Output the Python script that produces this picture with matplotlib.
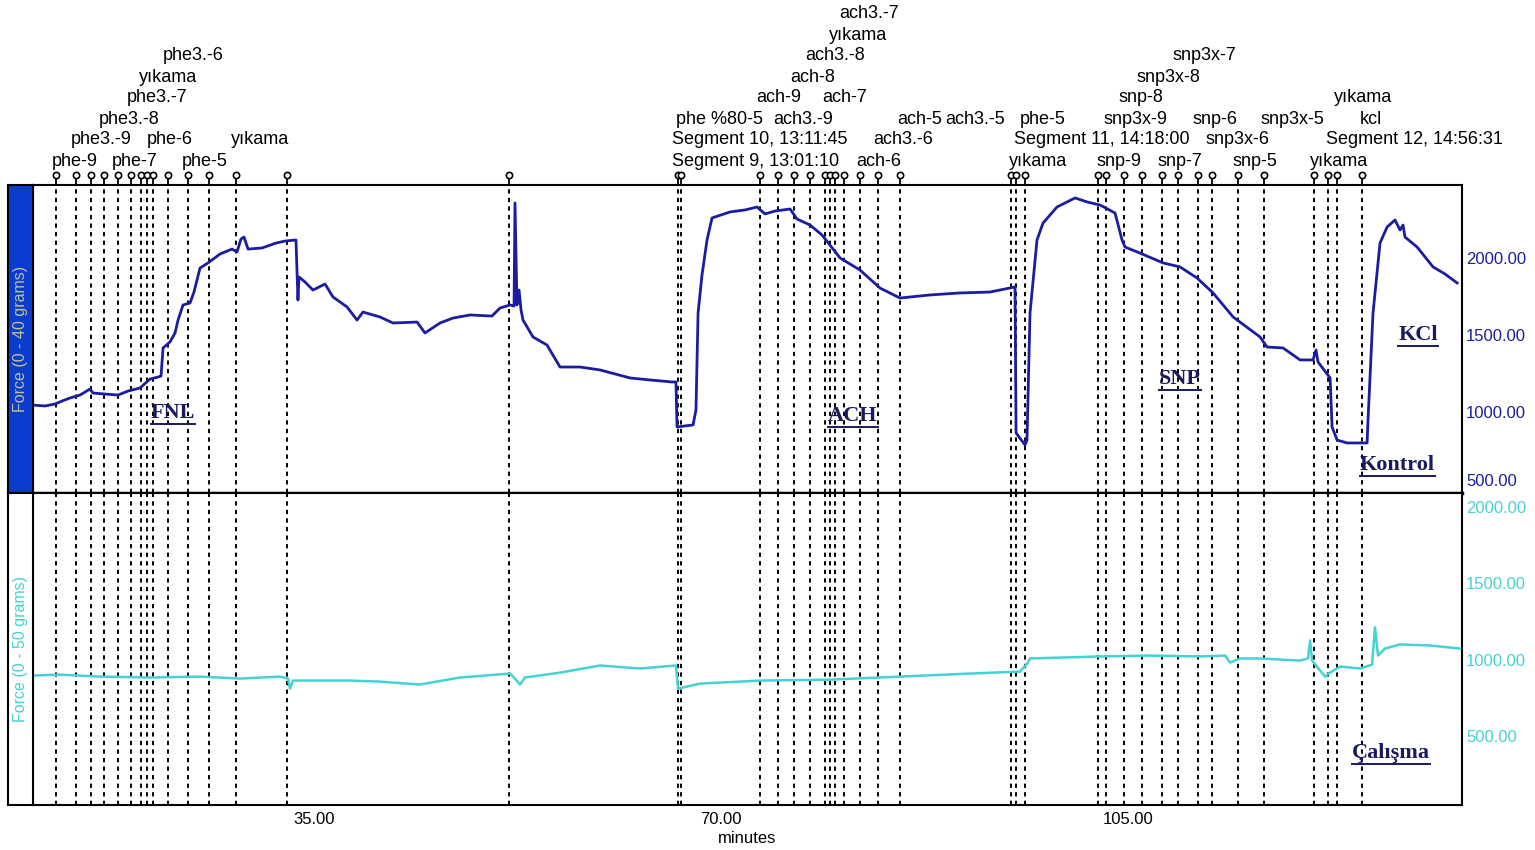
import matplotlib
matplotlib.use("Agg")
import matplotlib.pyplot as plt
from matplotlib import transforms
from matplotlib.lines import Line2D

# ---- data (x in minutes, force in grams) ----
top_time = [10.84, 11.87, 12.73, 13.33, 14.02, 14.88, 15.74, 16.00, 17.03, 18.15,
            19.01, 20.04, 20.90, 21.59, 21.85, 22.02, 22.62, 23.05, 23.31, 23.74,
            24.34, 24.68, 25.20, 25.89, 26.92, 27.95, 28.38, 28.72, 28.98, 29.33,
            30.53, 31.73, 32.51, 33.45, 33.54, 33.62, 33.71, 34.23, 34.91, 35.95,
            36.63, 37.84, 38.70, 39.21, 40.67, 41.79, 43.86, 44.54, 45.83, 46.95,
            48.41, 50.30, 50.99, 51.85, 52.20, 52.28, 52.45, 52.63, 52.80, 52.97,
            53.83, 55.03, 56.15, 57.87, 59.59, 62.17, 63.89, 65.78, 66.12, 66.21,
            67.59, 67.84, 68.02, 68.36, 68.79, 69.22, 70.77, 72.06, 73.09, 73.78,
            74.64, 75.93, 76.53, 77.65, 78.68, 80.23, 81.94, 83.66, 85.38, 87.96,
            90.54, 93.12, 95.27, 95.36, 96.13, 96.30, 96.56, 97.16, 97.68, 98.88,
            100.43, 101.46, 102.58, 103.87, 104.47, 104.73, 106.02, 108.00, 109.46, 110.92,
            112.30, 114.02, 116.34, 116.94, 118.31, 119.78, 120.89, 121.15, 121.32, 122.36,
            122.53, 122.96, 123.82, 125.54, 125.62, 126.05, 126.65, 127.26, 127.94, 128.37,
            128.63, 128.80, 129.84, 131.21, 132.24, 133.28]
top_force = [1045, 1039, 1052, 1071, 1091, 1110, 1149, 1123, 1117, 1110,
             1136, 1156, 1214, 1227, 1234, 1416, 1455, 1513, 1597, 1695,
             1708, 1779, 1935, 1968, 2026, 2058, 2039, 2123, 2136, 2058,
             2065, 2097, 2110, 2117, 1903, 1727, 1877, 1844, 1792, 1831,
             1747, 1682, 1597, 1649, 1617, 1578, 1584, 1513, 1578, 1610,
             1630, 1623, 1675, 1695, 1688, 2357, 1695, 1792, 1662, 1597,
             1487, 1435, 1292, 1292, 1273, 1221, 1208, 1195, 1195, 903,
             916, 1013, 1643, 1890, 2117, 2260, 2299, 2312, 2331, 2286,
             2305, 2318, 2253, 2214, 2149, 2000, 1922, 1805, 1740, 1760,
             1773, 1779, 1812, 864, 786, 818, 1643, 2117, 2227, 2331,
             2390, 2364, 2344, 2292, 2117, 2071, 2032, 1968, 1942, 1870,
             1773, 1617, 1487, 1422, 1416, 1338, 1338, 1403, 1325, 1221,
             903, 818, 799, 799, 948, 1643, 2097, 2201, 2247, 2182,
             2214, 2136, 2071, 1942, 1896, 1838]

bottom_time = [10.84, 13.16, 16.60, 20.90, 25.20, 28.64, 32.08, 32.76, 32.94, 33.19,
               33.80, 38.10, 40.67, 44.11, 47.55, 51.85, 52.28, 52.71, 53.14, 56.15,
               59.59, 63.03, 66.12, 66.30, 68.19, 73.35, 79.37, 85.38, 91.40, 95.70,
               96.39, 96.56, 102.58, 106.88, 111.18, 113.33, 113.76, 114.62, 116.34, 119.78,
               120.46, 120.64, 120.81, 121.50, 121.93, 122.36, 123.21, 124.93, 125.97, 126.22,
               126.48, 127.08, 128.37, 130.95, 133.53]
bottom_force = [895, 901, 888, 882, 888, 875, 888, 875, 809, 862,
                862, 862, 855, 836, 882, 908, 875, 836, 882, 914,
                961, 941, 961, 809, 842, 862, 868, 888, 908, 921,
                980, 1007, 1020, 1026, 1020, 1026, 980, 1007, 1007, 993,
                1007, 1125, 993, 928, 888, 914, 954, 941, 967, 1211,
                1026, 1072, 1099, 1092, 1072]

event_times = [12.82, 14.54, 15.83, 16.94, 18.15, 19.27, 20.13, 20.64, 21.16, 22.45,
               24.17, 25.97, 28.29, 32.68, 51.77, 66.30, 66.56, 73.35, 74.89, 76.27,
               77.65, 78.94, 79.37, 79.80, 80.57, 81.94, 83.49, 85.38, 94.93, 95.36,
               96.13, 102.41, 103.10, 104.64, 106.19, 107.91, 109.29, 111.01, 112.21, 114.45,
               116.68, 120.98, 122.18, 122.96, 125.11]

event_labels = ["phe-9", "phe-7", "phe-5", "phe3.-9", "phe-6", "yıkama", "phe3.-8",
                "phe3.-7", "yıkama", "phe3.-6",
                "Segment 9, 13:01:10", "ach-6", "Segment 10, 13:11:45", "ach3.-6",
                "phe %80-5", "ach3.-9", "ach-5", "ach3.-5", "ach-9", "ach-7", "ach-8",
                "ach3.-8", "yıkama", "ach3.-7",
                "yıkama", "Segment 11, 14:18:00", "phe-5", "snp-9", "snp-7", "snp-5",
                "snp3x-9", "snp-6", "snp3x-5", "snp3x-6", "snp-8", "snp3x-8", "snp3x-7",
                "yıkama", "Segment 12, 14:56:31", "kcl", "yıkama"]
label_times = [12.47, 17.63, 23.65, 14.11, 20.64, 27.86, 16.51, 18.92, 19.95, 22.02,
               65.78, 81.60, 65.78, 83.06, 66.12, 74.46, 85.13, 89.25, 73.00, 78.68,
               75.93, 77.22, 79.28, 80.14,
               94.76, 95.19, 95.70, 102.24, 107.48, 113.93, 102.92, 110.49, 116.34, 111.69,
               104.21, 105.68, 108.77, 120.64, 122.01, 124.93, 122.70]
label_rows = [0, 0, 0, 1, 1, 1, 2, 3, 4, 5,
              0, 0, 1, 1, 2, 2, 2, 2, 3, 3, 4, 5, 6, 7,
              0, 1, 2, 0, 0, 0, 2, 2, 2, 1, 3, 4, 5, 0, 1, 2, 3]

top_notes = ["FNL", "ACH", "SNP", "KCl", "Kontrol"]
top_note_time = [22.88, 81.34, 109.46, 129.92, 128.12]
top_note_force = [994, 974, 1214, 1500, 656]
bottom_notes = ["Çalışma"]
bottom_note_time = [127.60]
bottom_note_force = [388]

x_ticks = [35, 70, 105]
top_yticks = [500, 1000, 1500, 2000]
bottom_yticks = [500, 1000, 1500, 2000]

# ---- styling ----
W, H = 1535, 850
navy = "#1c1ca0"
cyan = "#45d2d2"
note_color = "#1a1a5e"
sans = "Liberation Sans"

plt.rcParams["font.family"] = sans


def px_box(x0, y0, x1, y1):
    return [x0 / W, 1 - y1 / H, (x1 - x0) / W, (y1 - y0) / H]


fig = plt.figure(figsize=(W / 100, H / 100), dpi=100)
ax_top = fig.add_axes(px_box(33, 185, 1462, 493))
ax_bot = fig.add_axes(px_box(33, 493, 1462, 805), sharex=ax_top)
strip_top = fig.add_axes(px_box(8, 185, 33, 493))
strip_bot = fig.add_axes(px_box(8, 493, 33, 805))

ax_top.plot(top_time, top_force, color=navy, lw=2.0, zorder=3)
ax_bot.plot(bottom_time, bottom_force, color=cyan, lw=1.8, zorder=3)

ax_top.set_xlim(10.84, 133.7)
ax_top.set_ylim(474, 2474)
ax_bot.set_ylim(46, 2092)

for ax in (ax_top, ax_bot):
    for t in event_times:
        ax.axvline(t, color="black", lw=1.4, ls=(0, (2.2, 2.2)), zorder=2)
    ax.yaxis.tick_right()
    ax.tick_params(axis="y", length=0, pad=3, labelsize=12)
    for sp in ax.spines.values():
        sp.set_linewidth(1.5)

ax_top.set_yticks(top_yticks)
ax_top.set_yticklabels([f"{v:.2f}" for v in top_yticks])
ax_top.tick_params(axis="y", labelcolor=navy)
ax_top.get_yticklabels()[0].set_va("bottom")
ax_top.tick_params(axis="x", length=0, labelbottom=False)
ax_top.spines["bottom"].set_linewidth(2.5)

ax_bot.set_yticks(bottom_yticks)
ax_bot.set_yticklabels([f"{v:.2f}" for v in bottom_yticks])
ax_bot.tick_params(axis="y", labelcolor=cyan)
ax_bot.set_xticks(x_ticks)
ax_bot.set_xticklabels([f"{v:.2f}" for v in x_ticks])
ax_bot.tick_params(axis="x", length=0, pad=5, labelsize=12)
ax_bot.set_xlabel("minutes", fontsize=12, labelpad=3)

# left colour strips
strip_top.set_facecolor("#0a3cd0")
strip_bot.set_facecolor("white")
for s, txt, col in ((strip_top, "Force (0 - 40 grams)", "#c8c090"),
                    (strip_bot, "Force (0 - 50 grams)", cyan)):
    s.set_xticks([])
    s.set_yticks([])
    for sp in s.spines.values():
        sp.set_linewidth(1.5)
    s.text(0.5, 0.5, txt, rotation=90, ha="center", va="center",
           fontsize=11.5, color=col, transform=s.transAxes)

# event markers and labels above the top panel
trans = transforms.blended_transform_factory(ax_top.transData, fig.transFigure)
ax_top.vlines(event_times, 1 - 186 / H, 1 - 177 / H, colors="black", lw=1.3,
              transform=trans, clip_on=False)
ax_top.plot(event_times, [1 - 175 / H] * len(event_times), "o", ms=4.5,
            mfc="white", mec="black", mew=1.2, transform=trans, clip_on=False)
for txt, t, r in zip(event_labels, label_times, label_rows):
    ax_top.text(t, 1 - (161 - 21 * r) / H, txt, transform=trans, ha="left",
                va="center", fontsize=13, clip_on=False)

# notes inside the panels
notes = []
for txt, t, v in zip(top_notes, top_note_time, top_note_force):
    notes.append(ax_top.text(t, v, txt, ha="center", va="center", fontsize=16,
                             family="Liberation Serif", weight="bold",
                             color=note_color, zorder=4))
for txt, t, v in zip(bottom_notes, bottom_note_time, bottom_note_force):
    notes.append(ax_bot.text(t, v, txt, ha="center", va="center", fontsize=16,
                             family="Liberation Serif", weight="bold",
                             color=note_color, zorder=4))

# underline the notes
fig.canvas.draw()
renderer = fig.canvas.get_renderer()
inv = fig.transFigure.inverted()
for n in notes:
    bb = n.get_window_extent(renderer)
    (x0, y0), (x1, _) = inv.transform([(bb.x0, bb.y0 - 1), (bb.x1, bb.y0 - 1)])
    fig.add_artist(Line2D([x0, x1], [y0, y0], color=note_color, lw=1.4,
                          transform=fig.transFigure))

fig.savefig("out.png", dpi=100)
